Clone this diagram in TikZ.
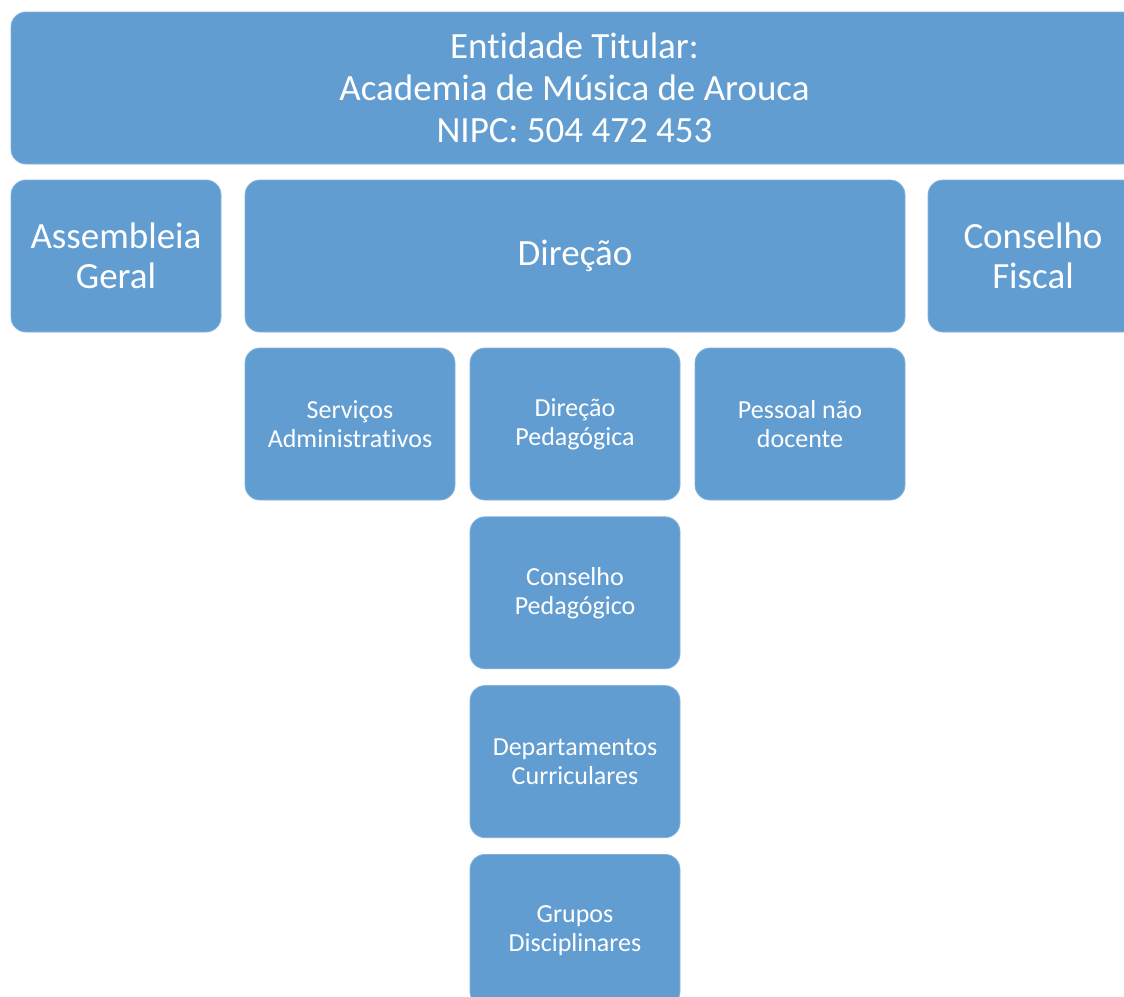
\documentclass[tikz,border=0pt]{standalone}
\usepackage{fontspec}
\setmainfont[Ligatures={NoCommon}]{Carlito}
\usetikzlibrary{positioning}
\definecolor{orgblue}{RGB}{98,157,209}
\definecolor{orgedge}{RGB}{130,179,221}
\begin{document}
\begin{tikzpicture}[
  x=1pt, y=-1pt,
  orgbox/.style={rectangle, rounded corners=15pt, fill=orgblue, draw=orgedge, line width=0.8pt, text=white, align=center, inner sep=0pt},
  bigbox/.style={orgbox, minimum height=152pt, font=\fontsize{37}{40}\selectfont},
  smallbox/.style={orgbox, minimum width=210pt, minimum height=152pt, font=\fontsize{26}{29}\selectfont},
  node distance=16pt
]
\useasboundingbox (0,0) rectangle (1124,996);
\clip (0,0) rectangle (1124,996);

% top level
\node[bigbox, minimum width=1127pt, font=\fontsize{37}{42}\selectfont] (titular) at (574.5,88) {Entidade Titular:\\Academia de Música de Arouca\\NIPC: 504 472 453};

% governing bodies
\node[bigbox, minimum width=210pt] (assembleia) at (116,256) {Assembleia\\Geral};
\node[bigbox, minimum width=660pt] (direcao) at (575,256) {Direção};
\node[bigbox, minimum width=210pt] (fiscal) at (1033,256) {Conselho\\Fiscal};

% below the board
\node[smallbox] (servicos) at (350,424) {Serviços\\Administrativos};
\node[smallbox] (dirped) at (575,424) {Direção\\Pedagógica};
\node[smallbox] (pessoal) at (800,424) {Pessoal não\\docente};
\node[smallbox, below=of dirped] (conped) {Conselho\\Pedagógico};
\node[smallbox, below=of conped] (deptos) {Departamentos\\Curriculares};
\node[smallbox, below=of deptos] (grupos) {Grupos\\Disciplinares};
\end{tikzpicture}
\end{document}
